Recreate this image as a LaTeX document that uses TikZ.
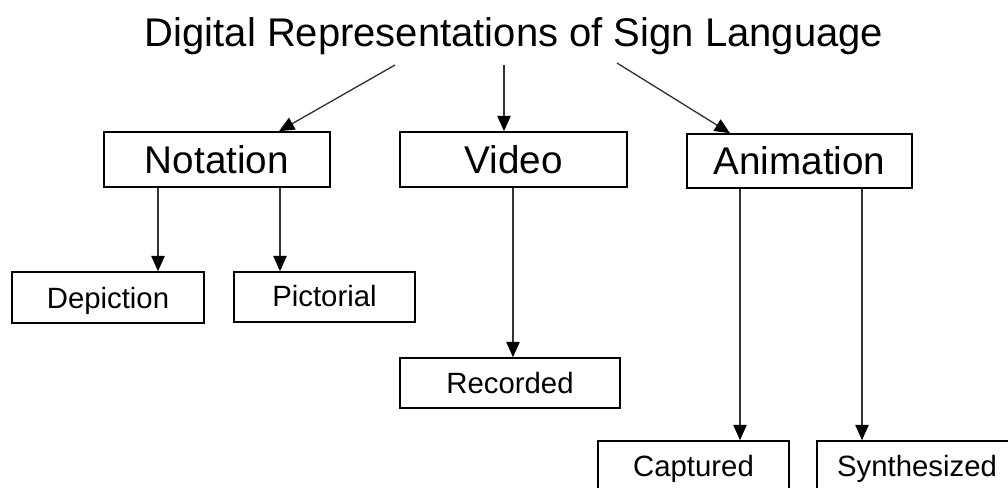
\documentclass[tikz,border=0pt]{standalone}
\usepackage{fontspec}
\setmainfont{Liberation Sans}
\usetikzlibrary{arrows.meta}
\begin{document}
\begin{tikzpicture}[x=0.75pt,y=-0.75pt,
  box/.style={draw=black, line width=1.2pt, inner sep=0pt, text depth=0pt, fill=white},
  big/.style={box, font=\fontsize{29}{34}\selectfont, text height=20.8pt},
  small/.style={box, font=\fontsize{22}{26}\selectfont, text height=15.8pt},
  arr/.style={line width=1pt, draw=black!80, -{Triangle[width=10pt,length=11.5pt,color=black]}}]
\useasboundingbox (0,0) rectangle (1008,487);
\fill[white] (0,0) rectangle (1008,487);

\node[font=\fontsize{30}{36}\selectfont, inner sep=0pt, text height=21.5pt, text depth=0pt] (title) at (514,32) {Digital Representations of Sign Language};

\node[big, minimum width=169.5pt, minimum height=41.25pt] (notation) at (217,159.5) {Notation};
\node[big, minimum width=170.25pt, minimum height=41.25pt] (video) at (513.5,159.5) {Video};
\node[big, minimum width=168.75pt, minimum height=40.5pt] (animation) at (799.5,161) {Animation};

\node[small, minimum width=144pt, minimum height=38.25pt] (depiction) at (108,297.5) {Depiction};
\node[small, minimum width=135.75pt, minimum height=37.5pt, text height=13.5pt] (pictorial) at (324.5,297) {Pictorial};
\node[small, minimum width=165pt, minimum height=37.5pt] (recorded) at (510,383) {Recorded};
\node[small, minimum width=143.25pt, minimum height=37.5pt] (captured) at (693.5,466) {Captured};
\node[small, minimum width=150pt, minimum height=37.5pt] (synthesized) at (917,466) {Synthesized};

\coordinate (t1) at (395,65);
\coordinate (t2) at (504,65);
\coordinate (t3) at (617,63);
\coordinate (x1) at (279,0);
\coordinate (x2) at (504,0);
\coordinate (x3) at (730,0);
\coordinate (c1) at (158,0);
\coordinate (c2) at (280,0);
\coordinate (c3) at (513,0);
\coordinate (c4) at (740,0);
\coordinate (c5) at (862,0);

\draw[arr] (t1) -- (notation.north -| x1);
\draw[arr] (t2) -- (video.north -| x2);
\draw[arr] (t3) -- (animation.north -| x3);

\draw[arr] (notation.south -| c1) -- (depiction.north -| c1);
\draw[arr] (notation.south -| c2) -- (pictorial.north -| c2);
\draw[arr] (video.south -| c3) -- (recorded.north -| c3);
\draw[arr] (animation.south -| c4) -- (captured.north -| c4);
\draw[arr] (animation.south -| c5) -- (synthesized.north -| c5);
\end{tikzpicture}
\end{document}
